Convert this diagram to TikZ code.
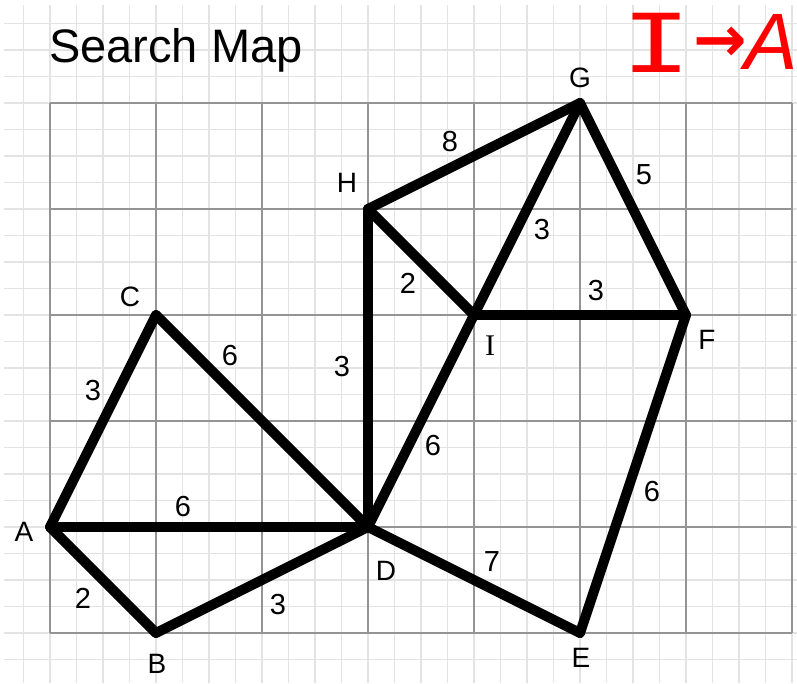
\documentclass[tikz,border=0pt]{standalone}
\usepackage{graphicx}
\usepackage{fontspec}
\setmainfont{Liberation Sans}
\newfontfamily\serifI{Liberation Serif}
\newfontfamily\monoI{Liberation Mono}
\newfontfamily\arrowfont{DejaVu Sans}
\begin{document}
\begin{tikzpicture}[x=1pt,y=-1pt,
  minorline/.style={draw=black!11, line width=1.3pt},
  majorline/.style={draw=black!42, line width=2pt},
  edge/.style={draw=black, line width=10pt, line cap=round, line join=round},
  vlabel/.style={inner sep=0pt, font=\fontsize{28}{28}\selectfont},
  wlabel/.style={inner sep=0pt, font=\fontsize{29}{29}\selectfont},
  redtext/.style={inner sep=0pt, text=red}]
\fill[white] (0,0) rectangle (797,683);
\useasboundingbox (0,0) rectangle (797,683);
% minor grid
\foreach \i in {-1,...,28} {
  \draw[minorline] ({50+26.5*\i},5) -- ({50+26.5*\i},683);
}
\foreach \j in {-3,...,21} {
  \draw[minorline] (4,{103+26.5*\j}) -- (797,{103+26.5*\j});
}
% major grid
\foreach \i in {0,...,7} {
  \draw[majorline] ({50+106*\i},103) -- ({50+106*\i},633);
}
\foreach \j in {0,...,5} {
  \draw[majorline] (50,{103+106*\j}) -- (792,{103+106*\j});
}
% title
\node[inner sep=0pt, anchor=base west, font=\fontsize{47}{47}\selectfont] (title) at (49,62) {Search Map};
% red note
\node[redtext, font=\fontsize{90}{90}\selectfont\monoI] (noteI) at (657,43) {\scalebox{1.3}[1]{I}};
\node[redtext, font=\fontsize{64}{64}\selectfont\arrowfont\bfseries] (noteArrow) at (720,44) {→};
\node[redtext, font=\fontsize{80}{80}\selectfont\itshape] (noteA) at (771,42) {A};
% vertices
\coordinate (A) at (50,527);
\coordinate (B) at (156,633);
\coordinate (C) at (156,315);
\coordinate (D) at (368,527);
\coordinate (E) at (580,633);
\coordinate (F) at (686,315);
\coordinate (G) at (580,103);
\coordinate (H) at (368,209);
\coordinate (I) at (474,315);
% edges
\draw[edge] (A) -- (C);
\draw[edge] (C) -- (D);
\draw[edge] (A) -- (D);
\draw[edge] (A) -- (B);
\draw[edge] (B) -- (D);
\draw[edge] (D) -- (H);
\draw[edge] (D) -- (I);
\draw[edge] (D) -- (E);
\draw[edge] (H) -- (G);
\draw[edge] (H) -- (I);
\draw[edge] (I) -- (G);
\draw[edge] (I) -- (F);
\draw[edge] (G) -- (F);
\draw[edge] (F) -- (E);
% vertex labels
\node[vlabel] (lA) at (24,532) {A};
\node[vlabel] (lB) at (157,664) {B};
\node[vlabel] (lC) at (130,297) {C};
\node[vlabel] (lD) at (386,571) {D};
\node[vlabel] (lE) at (581,658) {E};
\node[vlabel] (lF) at (707,340) {F};
\node[vlabel] (lG) at (580,78) {G};
\node[vlabel] (lH) at (347,183) {H};
\node[inner sep=0pt, font=\fontsize{30}{30}\selectfont\serifI] (lI) at (490,346) {I};
% weight labels
\node[wlabel] (wAC) at (93,391) {3};
\node[wlabel] (wCD) at (230,356) {6};
\node[wlabel] (wAD) at (183,507) {6};
\node[wlabel] (wAB) at (83,598) {2};
\node[wlabel] (wBD) at (278,605) {3};
\node[wlabel] (wDH) at (342,367) {3};
\node[wlabel] (wDI) at (433,446) {6};
\node[wlabel] (wDE) at (492,562) {7};
\node[wlabel] (wHG) at (450,142) {8};
\node[wlabel] (wHI) at (408,283) {2};
\node[wlabel] (wIG) at (542,230) {3};
\node[wlabel] (wIF) at (596,291) {3};
\node[wlabel] (wGF) at (644,175) {5};
\node[wlabel] (wFE) at (652,492) {6};
\end{tikzpicture}
\end{document}
